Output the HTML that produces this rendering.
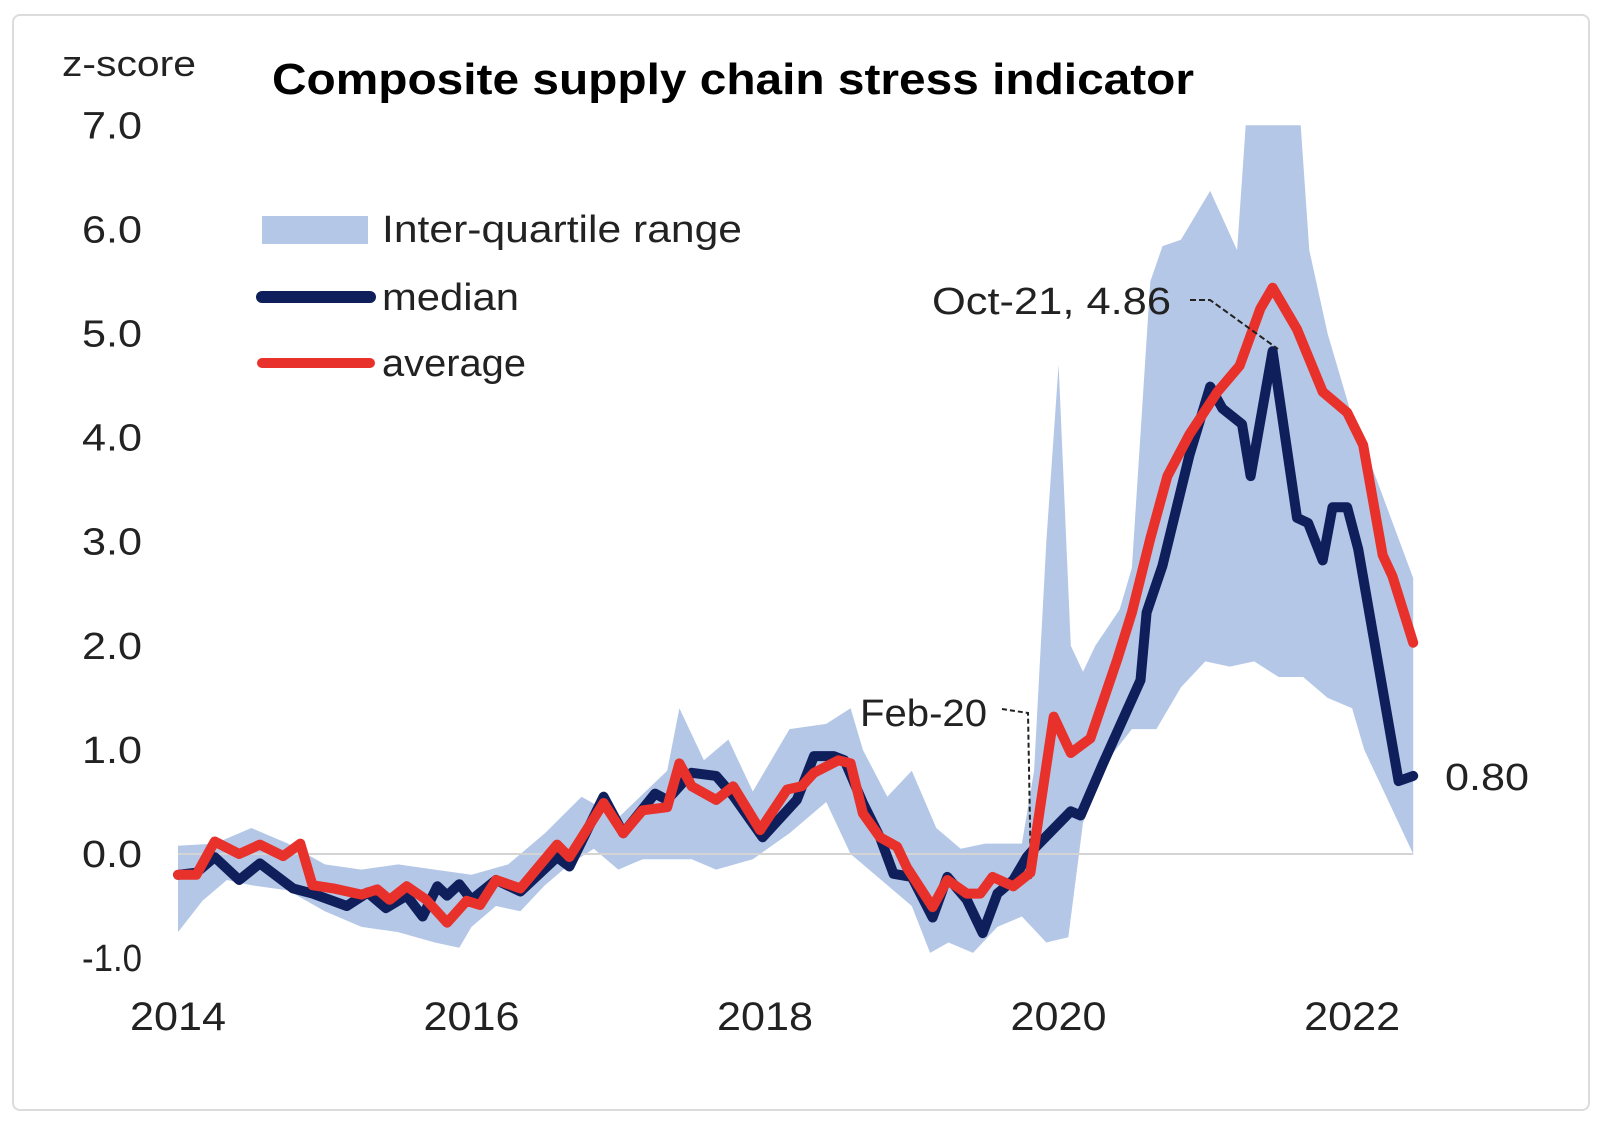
<!DOCTYPE html>
<html><head><meta charset="utf-8"><style>
html,body{margin:0;padding:0;background:#fff;}
body{width:1606px;height:1130px;overflow:hidden;font-family:"Liberation Sans",sans-serif;}
#frame{position:absolute;left:12px;top:14px;width:1578px;height:1097px;border:2px solid #dcdcdc;border-radius:8px;box-sizing:border-box;}
svg{position:absolute;left:0;top:0;}
</style></head><body>
<div id="frame"></div>
<svg id="chart" width="1606" height="1130" font-family="Liberation Sans, sans-serif"></svg>
<script>
// month index from Jan-2014 (0) ; values are z-scores
const avgX=[0,1.5,3,5,6.7,8.6,10,11,12.7,15,16.3,17.3,18.7,20.3,22,23.6,24.7,26,28,31,32,34.8,36.4,38,40,41,42,44,45.4,47.6,49.8,51,52,54,55,56,57.4,58.8,59.6,61.7,62.9,64.5,65.6,66.6,68.3,69.7,71.6,73,74.6,76.8,78,79.5,80.9,82.7,85,86.8,88.5,89.5,91.5,93.6,95.6,96.9,98.5,99.3,101];
const avgY=[-0.2,-0.2,0.12,0.0,0.09,-0.02,0.1,-0.3,-0.33,-0.39,-0.34,-0.44,-0.31,-0.44,-0.66,-0.45,-0.49,-0.25,-0.33,0.09,-0.03,0.49,0.2,0.42,0.45,0.87,0.65,0.52,0.65,0.23,0.62,0.65,0.78,0.9,0.87,0.39,0.16,0.07,-0.13,-0.51,-0.25,-0.38,-0.38,-0.22,-0.31,-0.18,1.32,0.97,1.11,1.87,2.32,3.03,3.63,4.03,4.44,4.69,5.24,5.44,5.04,4.44,4.24,3.93,2.87,2.67,2.03];
const medX=[0,1.5,3,5,6.7,9.4,11,13.8,15.5,17,18.7,20,21.2,22,23,24,26,28,31,32,34.8,36.4,39,40,42,44,45.4,47.8,50.6,52,53.6,54.5,56,57.4,58.5,60,61.7,62.9,64.5,65.8,67,68.3,69.4,70,73,73.8,75.6,78.7,79.2,80.5,82.7,84.4,85.4,87,87.7,89.5,91.5,92.4,93.6,94.4,95.6,96.5,99.8,101];
const medY=[-0.2,-0.18,-0.03,-0.25,-0.09,-0.33,-0.38,-0.5,-0.37,-0.52,-0.4,-0.6,-0.31,-0.4,-0.29,-0.44,-0.25,-0.36,-0.03,-0.12,0.55,0.2,0.58,0.52,0.78,0.75,0.56,0.16,0.52,0.94,0.94,0.9,0.49,0.16,-0.19,-0.22,-0.61,-0.22,-0.44,-0.76,-0.38,-0.25,-0.03,0.05,0.41,0.37,0.86,1.67,2.32,2.77,3.83,4.49,4.28,4.13,3.63,4.83,3.23,3.18,2.82,3.33,3.33,2.93,0.70,0.75];
const upX=[0,3,6,9,12,15,18,21,24,27,30,33,36,40,41,43,45,47,50,53,55,56,58,60,62,64,66,69,70,71,72,73,74,75,77,78,79.5,80.5,82,84.4,86.6,87.3,91.8,92.5,94,96,98,101];
const upY=[0.08,0.1,0.25,0.1,-0.1,-0.15,-0.1,-0.15,-0.2,-0.1,0.2,0.55,0.35,0.8,1.4,0.9,1.1,0.6,1.2,1.25,1.4,1.0,0.55,0.8,0.25,0.05,0.1,0.1,0.8,3.0,4.7,2.0,1.75,2.0,2.35,2.75,5.5,5.84,5.9,6.37,5.8,7.0,7.0,5.8,5.0,4.2,3.6,2.65];
const loX=[0,2,4,6,9,12,15,18,21,23,24,26,28,30,32,34,36,38,40,42,44,47,50,53,55,57,60,61.5,63,65,67,69,71,72.8,74,76,78,80,82,84,86,88,90,92,94,96,97,99,101];
const loY=[-0.75,-0.45,-0.25,-0.3,-0.35,-0.55,-0.7,-0.75,-0.85,-0.9,-0.7,-0.5,-0.55,-0.3,-0.1,0.05,-0.15,-0.05,-0.05,-0.05,-0.15,-0.05,0.2,0.5,0.0,-0.2,-0.5,-0.95,-0.85,-0.95,-0.7,-0.6,-0.85,-0.8,0.3,0.9,1.2,1.2,1.6,1.85,1.8,1.85,1.7,1.7,1.5,1.4,1.0,0.5,0.0];
const yTicks=[7,6,5,4,3,2,1,0,-1];
const xTicks=[2014,2016,2018,2020,2022];

const NS="http://www.w3.org/2000/svg";
const svg=document.getElementById('chart');
const x0=178, xStep=12.23, y0=854, yUnit=104.1;
const X=i=>x0+i*xStep;
const Y=v=>y0-v*yUnit;
function mk(tag,attrs,parent){const e=document.createElementNS(NS,tag);for(const k in attrs)e.setAttribute(k,attrs[k]);(parent||svg).appendChild(e);return e;}
function pts(xs,ys){return xs.map((x,i)=>X(x).toFixed(1)+','+Y(ys[i]).toFixed(1));}
function clipY(v){return Math.min(v,7.0);}

const bandPts=pts(upX,upY.map(clipY)).concat(pts(loX,loY).reverse());
const band=mk('polygon',{points:bandPts.join(' '),fill:'#b4c7e7'});



const zl=mk('line',{x1:X(0),x2:X(101),y1:Y(0),y2:Y(0),stroke:'#d4d4d4','stroke-width':2});



const fl=mk('polyline',{points:'1002,709 1028,713 1031,879',fill:'none',stroke:'#222','stroke-width':2,'stroke-dasharray':'5,3'});



const med=mk('polyline',{points:pts(medX,medY).join(' '),fill:'none',stroke:'#0f1f5c','stroke-width':10,'stroke-linejoin':'round','stroke-linecap':'round'});


const avg=mk('polyline',{points:pts(avgX,avgY).join(' '),fill:'none',stroke:'#e8312a','stroke-width':10,'stroke-linejoin':'round','stroke-linecap':'round'});



const ol=mk('polyline',{points:'1190,300 1210,300 1278,349',fill:'none',stroke:'#222','stroke-width':2,'stroke-dasharray':'6,3'});



yTicks.forEach(v=>{
  const t=mk('text',{x:142,y:Y(v)+13,'text-anchor':'end','font-size':38,fill:'#222',textLength:60,lengthAdjust:'spacingAndGlyphs'});
  t.textContent=v.toFixed(1);
  
  
});
xTicks.forEach(yr=>{
  const t=mk('text',{x:X((yr-2014)*12),y:1030,'text-anchor':'middle','font-size':40,fill:'#222',textLength:96,lengthAdjust:'spacingAndGlyphs'});
  t.textContent=yr;
  
  
});
</script>
<svg width="1606" height="1130" style="position:absolute;left:0;top:0" font-family="Liberation Sans, sans-serif">
<text x="62" y="76" font-size="36" fill="#222" textLength="134" lengthAdjust="spacingAndGlyphs">z-score</text>
<text x="272" y="94" font-size="44" font-weight="bold" fill="#000" textLength="922" lengthAdjust="spacingAndGlyphs">Composite supply chain stress indicator</text>
<rect x="262" y="216" width="106" height="28" fill="#b4c7e7"/>
<text x="382" y="242" font-size="38" fill="#222" textLength="360" lengthAdjust="spacingAndGlyphs">Inter-quartile range</text>
<line x1="262" y1="297" x2="370" y2="297" stroke="#0f1f5c" stroke-width="12" stroke-linecap="round"/>
<text x="382" y="310" font-size="38" fill="#222" textLength="137" lengthAdjust="spacingAndGlyphs">median</text>
<line x1="262" y1="363" x2="370" y2="363" stroke="#e8312a" stroke-width="10" stroke-linecap="round"/>
<text x="382" y="376" font-size="38" fill="#222" textLength="144" lengthAdjust="spacingAndGlyphs">average</text>
<text x="932" y="314" font-size="38" fill="#222" textLength="239" lengthAdjust="spacingAndGlyphs">Oct-21, 4.86</text>
<text x="860" y="726" font-size="38" fill="#222" textLength="127" lengthAdjust="spacingAndGlyphs">Feb-20</text>
<text x="1445" y="790" font-size="38" fill="#222" textLength="84" lengthAdjust="spacingAndGlyphs">0.80</text>
</svg>
</body></html>
